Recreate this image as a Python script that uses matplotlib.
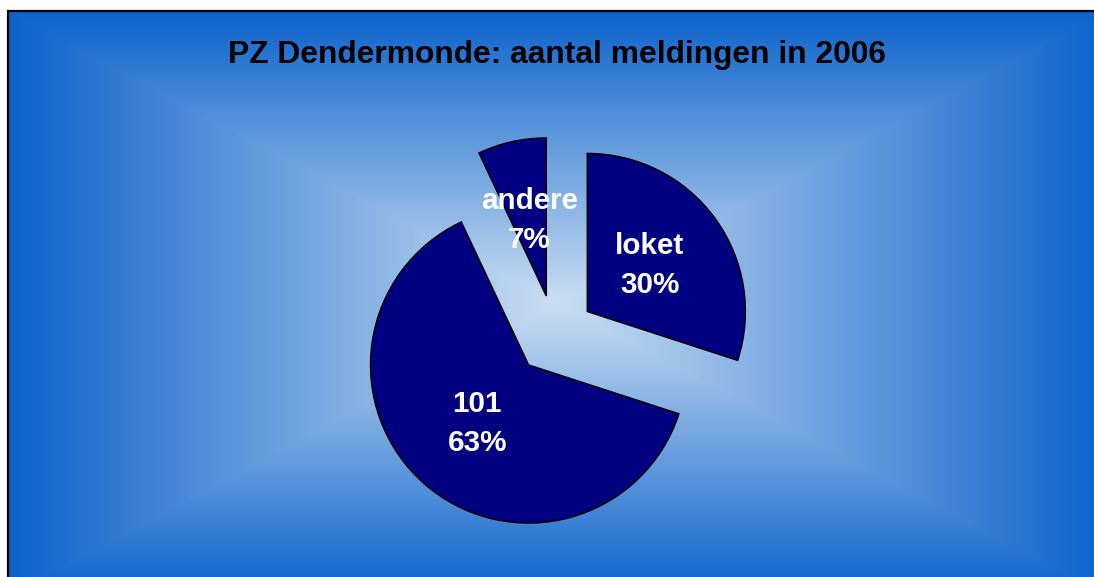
import numpy as np
import matplotlib
matplotlib.use("Agg")
import matplotlib.pyplot as plt

# ---- data ----
categories = ["loket", "101", "andere"]
values = [30, 63, 7]
title = "PZ Dendermonde: aantal meldingen in 2006"

W, H = 1094, 577
fig = plt.figure(figsize=(W / 100, H / 100), dpi=100)
fig.patch.set_facecolor("white")

# ---- background: rectangular "from centre" gradient (pixel image) ----
x0, x1, y0, y1 = 8, 1106, 11, 596
cx, cy = (x0 + x1) / 2, (y0 + y1) / 2
a, b = (x1 - x0) / 2, (y1 - y0) / 2
XX, YY = np.meshgrid(np.arange(W) + 0.5, np.arange(H) + 0.5)
t = np.clip(np.maximum(np.abs(XX - cx) / a, np.abs(YY - cy) / b), 0, 1)
c_center = np.array([202, 222, 242]) / 255
c_edge = np.array([12, 98, 204]) / 255
img = c_center[None, None, :] + (c_edge - c_center)[None, None, :] * t[..., None]
outside = (XX < x0) | (YY < y0)
img[outside] = 1.0
fig.figimage(img, xo=0, yo=0, origin="upper", zorder=-5)

bg = fig.add_axes([0, 0, 1, 1])
bg.patch.set_alpha(0)
bg.axis("off")
bg.plot([x0, x0, W + 5], [H + 5, y0, y0], color="black", linewidth=1.6,
        solid_joinstyle="miter", zorder=2)
bg.set_xlim(0, W)
bg.set_ylim(H, 0)

# ---- pie ----
ax = fig.add_axes([0, 0, 1, 1])
ax.patch.set_alpha(0)
R = 158
center = (555, H - 335)
labels = [f"{c}\n{v}%" for c, v in zip(categories, values)]
wedges, texts = ax.pie(
    values, explode=[0.253 * R] * len(values), radius=R, center=center,
    startangle=90, counterclock=False, labels=labels, labeldistance=0.49,
    colors=["#000080"] * len(values),
    wedgeprops=dict(edgecolor="black", linewidth=1.1),
    textprops=dict(color="white", fontsize=21.3, fontweight="bold",
                   family="Liberation Sans", linespacing=1.5),
)
for tx in texts:
    tx.set_ha("center")
    tx.set_va("center")
ax.set_xlim(0, W)
ax.set_ylim(0, H)
ax.set_aspect("equal")
ax.axis("off")

fig.text(557 / W, 1 - 63 / H, title, ha="center", va="baseline",
         fontsize=22.9, fontweight="bold", family="Liberation Sans", color="black")

fig.savefig("out.png", dpi=100)
